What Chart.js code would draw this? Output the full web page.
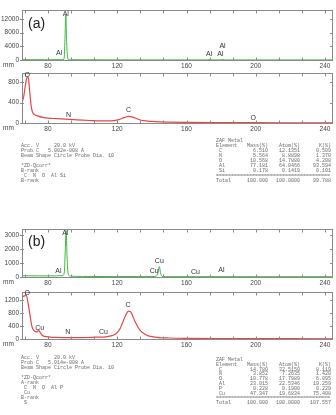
<!DOCTYPE html>
<html>
<head>
<meta charset="utf-8">
<script src="https://cdn.jsdelivr.net/npm/chart.js@4"></script>
<style>
  body { margin: 0; width: 336px; height: 415px; background: #fff; position: relative; overflow: hidden; }
  canvas { position: absolute; left: 0; }
  .mono { position: absolute; font-family: "Liberation Mono", "DejaVu Sans Mono", monospace; font-size: 5px; line-height: 5px; color: #6a6a6a; white-space: pre; }
  .tag { position: absolute; font-family: "Liberation Sans", Arial, sans-serif; font-size: 14px; color: #222; }
</style>
</head>
<body>
<canvas id="aTop" width="336" height="69"></canvas>
<canvas id="aBot" width="336" height="68"></canvas>
<canvas id="bTop" width="336" height="67"></canvas>
<canvas id="bBot" width="336" height="66"></canvas>
<div class="tag" style="left:28px;top:15px">(a)</div>
<div class="tag" style="left:28px;top:233px">(b)</div>
<div id="texts"></div>
<script>
// x axis (mm)
const xLabelTicks = [80, 120, 160, 200, 240];
const xMinorTicks = [66.7, 80, 93.3, 106.7, 120, 133.3, 146.7, 160, 173.3, 186.7, 200, 213.3, 226.7, 240];

// (a) upper spectrum
const aGreenX = [65, 70, 80, 88, 89.3, 89.8, 90.3, 90.8, 91.5, 93, 100, 120, 140, 160, 172, 173, 174, 180, 181, 182, 200, 220, 245];
const aGreenY = [120, 90, 80, 90, 300, 6000, 13300, 5000, 300, 90, 60, 40, 30, 30, 30, 120, 30, 30, 200, 30, 20, 20, 20];
const aTopTicks = [0, 4000, 8000, 12000];
const aTopLabels = ['Al', 'Al', 'Al', 'Al', 'Al'];
const aTopLabelX = [90.3, 86.5, 173.1, 179.5, 180.8];
const aTopLabelY = [13500, 1900, 1700, 1700, 4200];

// (a) lower spectrum
const aRedX = [65, 66, 67, 68, 68.7, 69.5, 70.3, 71, 72, 74, 77, 80, 85, 90, 95, 100, 105, 110, 115, 118, 121, 124, 126.5, 129, 132, 135, 140, 145, 150, 160, 180, 200, 220, 245];
const aRedY = [400, 520, 750, 900, 880, 600, 330, 220, 170, 140, 110, 95, 85, 75, 65, 55, 48, 42, 40, 45, 65, 105, 130, 115, 75, 45, 30, 22, 18, 12, 8, 6, 5, 5];
const aBotTicks = [0, 400, 800];
const aBotLabels = ['O', 'N', 'C', 'O'];
const aBotLabelX = [68, 91.9, 126.5, 198.6];
const aBotLabelY = [930, 160, 250, 90];

// (b) upper spectrum
const bGreenX = [65, 75, 85, 88.5, 89.5, 90, 90.5, 91, 91.7, 93, 100, 120, 140, 142.5, 143.5, 144.3, 145, 146, 150, 165, 180, 200, 245];
const bGreenY = [90, 80, 80, 100, 400, 2000, 3300, 1500, 200, 60, 40, 30, 30, 60, 300, 750, 300, 40, 25, 25, 25, 20, 20];
const bTopTicks = [0, 1000, 2000, 3000];
const bTopLabels = ['Al', 'Al', 'Cu', 'Cu', 'Cu', 'Al'];
const bTopLabelX = [90, 86, 144.3, 141.3, 165.2, 180.2];
const bTopLabelY = [3150, 400, 1110, 400, 350, 520];

// (b) lower spectrum
const bRedX = [65, 66.5, 67.5, 68.5, 69.8, 70.8, 71.8, 73.7, 74.6, 75.5, 76.6, 78, 81.3, 85, 91, 100, 108, 112, 115, 118, 120, 121.7, 123.6, 125, 126.5, 127.5, 128.4, 130.4, 133.2, 137, 140, 144, 150, 160, 180, 200, 245];
const bRedY = [1280, 1320, 1340, 1100, 670, 370, 265, 215, 265, 200, 115, 80, 60, 50, 43, 45, 55, 60, 80, 120, 200, 320, 570, 740, 855, 840, 775, 520, 265, 115, 75, 45, 30, 20, 12, 10, 8];
const bBotTicks = [0, 400, 800, 1200];
const bBotLabels = ['O', 'Cu', 'N', 'Cu', 'C'];
const bBotLabelX = [68, 75.2, 91.5, 112, 126.2];
const bBotLabelY = [1400, 340, 200, 200, 1030];

// quant tables
const aElem = ['C', 'N', 'O', 'Al', 'Si'];
const aMass = ['6.510', '5.564', '10.568', '77.181', '0.178'];
const aAtom = ['12.1351', '8.8898', '14.7880', '64.0466', '0.1419'];
const aK = ['0.509', '1.370', '4.208', '93.594', '0.101'];
const aTotal = ['100.000', '100.0000', '99.788'];
const aInfo = ['Acc. V     20.0 kV', 'Prob C   5.002e-008 A', 'Beam Shape Circle Probe Dia. 10', '', '*ZD-Qcorr*', 'B-rank', ' C  N  O  Al Si', 'B-rank'];

const bElem = ['C', 'N', 'O', 'Al', 'P', 'Cu'];
const bMass = ['14.780', '3.852', '10.778', '23.015', '0.228', '47.347'];
const bAtom = ['32.5150', '7.2635', '17.7989', '22.5346', '0.1900', '19.6834'];
const bK = ['8.119', '1.420', '6.095', '19.259', '0.229', '75.408'];
const bTotal = ['100.000', '100.0000', '107.557'];
const bInfo = ['Acc. V     20.0 kV', 'Prob C   5.014e-008 A', 'Beam Shape Circle Probe Dia. 10', '', '*ZD-Qcorr*', 'A-rank', ' C  N  O  Al P', ' Cu', 'B-rank', ' S'];

const FONT = '"Liberation Sans", Arial, sans-serif';
const TXT = '#444';
const RED = '#e84646';
const GREEN = '#3cb83c';

const frame = {
  id: 'frame',
  afterDraw(chart, args, o) {
    const { ctx, chartArea: a, scales } = chart;
    ctx.save();
    ctx.strokeStyle = '#8a8a8a';
    ctx.lineWidth = 1;
    ctx.strokeRect(a.left + 0.5, a.top + 0.5, a.right - a.left - 1, a.bottom - a.top);
    ctx.beginPath();
    xMinorTicks.forEach(v => {
      const px = Math.round(scales.x.getPixelForValue(v)) + 0.5;
      ctx.moveTo(px, a.top); ctx.lineTo(px, a.top + 3.5);
      ctx.moveTo(px, a.bottom); ctx.lineTo(px, a.bottom - 2.5);
    });
    o.yTicks.forEach(v => {
      const py = Math.round(scales.y.getPixelForValue(v)) + 0.5;
      ctx.moveTo(a.left - 2, py); ctx.lineTo(a.left + 2, py);
      ctx.moveTo(a.right, py); ctx.lineTo(a.right - 3, py);
    });
    ctx.stroke();
    ctx.fillStyle = TXT;
    ctx.font = '6.5px ' + FONT;
    ctx.textAlign = 'left';
    ctx.textBaseline = 'top';
    ctx.fillText('mm', 3, a.bottom + 1.5);
    ctx.textAlign = 'center';
    ctx.textBaseline = 'middle';
    ctx.font = '7px ' + FONT;
    ctx.fillStyle = '#333';
    o.names.forEach((n, i) => {
      ctx.fillText(n, scales.x.getPixelForValue(o.xs[i]), scales.y.getPixelForValue(o.ys[i]));
    });
    ctx.restore();
  }
};

function mk(id, areaTop, areaBottom, xs, ys, color, yMax, yTicks, names, lx, ly) {
  const el = document.getElementById(id);
  const h = Math.round(areaBottom - areaTop) + 8 + 11;
  el.height = h;
  el.style.top = (areaTop - 8) + 'px';
  new Chart(el.getContext('2d'), {
    type: 'line',
    data: {
      datasets: [{
        data: xs.map((x, i) => ({ x, y: ys[i] })),
        borderColor: color,
        borderWidth: color === RED ? 1.2 : 1,
        pointRadius: 0,
        cubicInterpolationMode: 'monotone'
      }]
    },
    options: {
      responsive: false,
      animation: false,
      layout: { padding: { top: 8, right: 3, left: 0, bottom: 0 } },
      plugins: {
        legend: { display: false },
        tooltip: { enabled: false },
        frame: { yTicks, names, xs: lx, ys: ly }
      },
      scales: {
        x: {
          type: 'linear', min: 65, max: 244.6,
          afterBuildTicks: s => { s.ticks = xLabelTicks.map(v => ({ value: v })); },
          afterFit: s => { s.height = 11; },
          grid: { display: false, drawTicks: false, tickLength: 0 },
          border: { display: false },
          ticks: { font: { size: 6.5, family: FONT }, color: TXT, padding: 2, maxRotation: 0, autoSkip: false, callback: v => String(v) }
        },
        y: {
          min: 0, max: yMax,
          afterBuildTicks: s => { s.ticks = yTicks.map(v => ({ value: v })); },
          afterFit: s => { s.width = 22; },
          grid: { display: false, drawTicks: false, tickLength: 0 },
          border: { display: false },
          ticks: { font: { size: 6.5, family: FONT }, color: TXT, padding: 3, autoSkip: false, callback: v => String(v) }
        }
      }
    },
    plugins: [frame]
  });
}

mk('aTop', 10, 60, aGreenX, aGreenY, GREEN, 14600, aTopTicks, aTopLabels, aTopLabelX, aTopLabelY);
mk('aBot', 73, 123, aRedX, aRedY, RED, 980, aBotTicks, aBotLabels, aBotLabelX, aBotLabelY);
mk('bTop', 229, 277, bGreenX, bGreenY, GREEN, 3420, bTopTicks, bTopLabels, bTopLabelX, bTopLabelY);
mk('bBot', 292, 339, bRedX, bRedY, RED, 1440, bBotTicks, bBotLabels, bBotLabelX, bBotLabelY);

// text blocks
const box = document.getElementById('texts');
function put(txt, left, top, right) {
  const d = document.createElement('div');
  d.className = 'mono';
  d.textContent = txt;
  d.style.top = top + 'px';
  if (right) { d.style.right = (336 - left) + 'px'; d.style.textAlign = 'right'; }
  else d.style.left = left + 'px';
  box.appendChild(d);
}
function info(lines, top) {
  lines.forEach((t, i) => put(t, 21, top + i * 5, false));
}
function table(elem, mass, atom, k, total, top, step) {
  put('ZAF Metal', 216, top, false);
  put('Element', 216, top + step, false);
  put('Mass(%)', 268, top + step, true);
  put('Atom(%)', 300, top + step, true);
  put('K(%)', 331, top + step, true);
  elem.forEach((e, i) => {
    const y = top + step * (i + 2);
    put(e, 219, y, false);
    put(mass[i], 268, y, true);
    put(atom[i], 300, y, true);
    put(k[i], 331, y, true);
  });
  const ys = top + step * (elem.length + 2);
  put('='.repeat(38), 216, ys, false);
  put('Total', 216, ys + step, false);
  put(total[0], 268, ys + step, true);
  put(total[1], 300, ys + step, true);
  put(total[2], 331, ys + step, true);
}
info(aInfo, 144);
table(aElem, aMass, aAtom, aK, aTotal, 139, 5);
info(bInfo, 356);
table(bElem, bMass, bAtom, bK, bTotal, 358, 4.8);
</script>
</body>
</html>
